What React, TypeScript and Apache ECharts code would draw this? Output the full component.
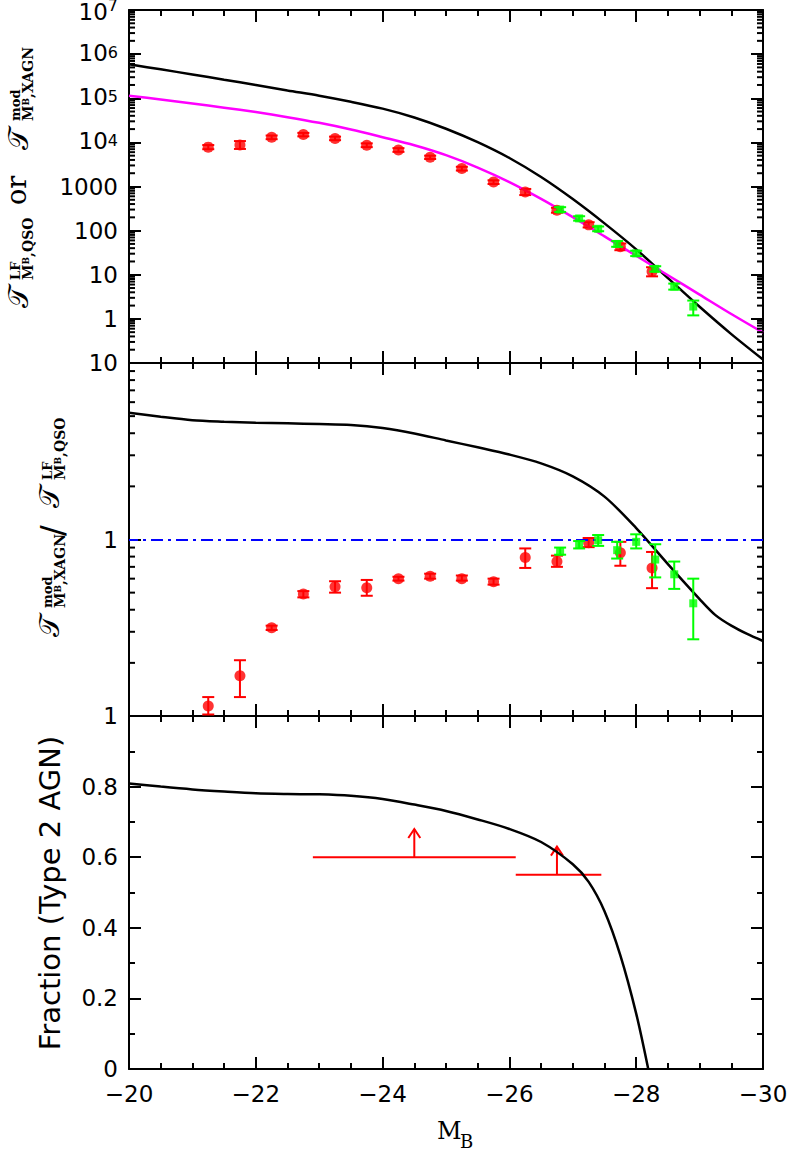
import React, { useEffect, useRef } from 'react';
import * as echarts from 'echarts';

// ---------- data ----------
const M_CURVE = [-20, -20.5, -21, -21.5, -22, -22.5, -23, -23.5, -24, -24.5, -25, -25.5, -26, -26.5, -27, -27.5, -28, -28.5, -29, -29.5, -30];
const LF_MODEL_XAGN = [5.89e5, 4.52e5, 3.47e5, 2.63e5, 2.0e5, 1.5e5, 1.14e5, 8.32e4, 5.82e4, 3.67e4, 2.04e4, 1.01e4, 4.42e3, 1.64e3, 519, 146, 37.6, 8.41, 1.88, 0.452, 0.12];
const LF_FIT_QSO = [1.14e5, 9.38e4, 7.62e4, 6.12e4, 4.86e4, 3.73e4, 2.77e4, 1.96e4, 1.31e4, 8.61e3, 5.13e3, 2.69e3, 1.26e3, 525, 202, 74, 26.9, 9.77, 3.55, 1.29, 0.49];

const RATIO_M = [-20, -20.5, -21, -21.5, -22, -22.5, -23, -23.5, -24, -24.5, -25, -25.5, -26, -26.5, -27, -27.5, -28, -28.5, -29, -29.25, -29.5, -29.75, -30];
const RATIO_MODEL = [5.23, 4.96, 4.74, 4.65, 4.59, 4.55, 4.51, 4.455, 4.28, 3.99, 3.64, 3.33, 3.03, 2.7, 2.28, 1.75, 1.16, 0.726, 0.46, 0.373, 0.325, 0.2915, 0.266];

const FRAC_M = [-20, -20.5, -21, -21.5, -22, -22.5, -23, -23.5, -24, -24.5, -25, -25.5, -26, -26.5, -27, -27.25, -27.5, -27.75, -28, -28.19];
const FRAC_TYPE2 = [0.809, 0.8, 0.792, 0.786, 0.781, 0.779, 0.778, 0.774, 0.765, 0.749, 0.731, 0.707, 0.68, 0.643, 0.58, 0.53, 0.447, 0.322, 0.157, 0];

const QSO_M = [-21.25, -21.75, -22.25, -22.75, -23.25, -23.75, -24.25, -24.75, -25.25, -25.75, -26.25, -26.75, -27.25, -27.75, -28.25];
const QSO_LF = [7.8e3, 8.7e3, 1.3e4, 1.5e4, 1.23e4, 8.6e3, 6.7e3, 4.6e3, 2.55e3, 1.26e3, 750, 290, 135, 43, 11.8];
const QSO_LF_LO = [7.0e3, 7.1e3, 1.18e4, 1.37e4, 1.12e4, 7.8e3, 6.1e3, 4.2e3, 2.3e3, 1.14e3, 640, 255, 118, 36, 9.2];
const QSO_LF_HI = [8.7e3, 1.07e4, 1.43e4, 1.64e4, 1.35e4, 9.5e3, 7.4e3, 5.0e3, 2.8e3, 1.38e3, 880, 330, 155, 51, 14.8];
const QSO_RATIO = [0.114, 0.169, 0.316, 0.491, 0.54, 0.533, 0.6, 0.62, 0.6, 0.577, 0.79, 0.75, 0.96, 0.84, 0.69];
const QSO_RATIO_LO = [0.102, 0.128, 0.307, 0.47, 0.5, 0.48, 0.585, 0.6, 0.585, 0.555, 0.69, 0.7, 0.905, 0.71, 0.53];
const QSO_RATIO_HI = [0.128, 0.207, 0.325, 0.51, 0.58, 0.59, 0.615, 0.64, 0.625, 0.6, 0.89, 0.81, 1.02, 0.97, 0.85];

const X_M = [-26.8, -27.1, -27.4, -27.7, -28.0, -28.3, -28.6, -28.9];
const X_LF = [300, 189, 110, 50, 30.5, 13.6, 5.4, 1.9];
const X_LF_LO = [265, 168, 97, 43, 26.5, 11.8, 4.6, 1.2];
const X_LF_HI = [340, 212, 124, 58, 35, 15.6, 6.3, 2.6];
const X_RATIO = [0.853, 0.93, 0.99, 0.87, 0.97, 0.77, 0.635, 0.435];
const X_RATIO_LO = [0.82, 0.89, 0.92, 0.78, 0.89, 0.61, 0.525, 0.272];
const X_RATIO_HI = [0.9, 0.98, 1.06, 0.97, 1.07, 0.94, 0.75, 0.6];

const LIM_FROM = [-22.9, -26.1];
const LIM_TO = [-26.1, -27.45];
const LIM_VALUE = [0.6, 0.55];
const LIM_ARROW_M = [-24.5, -26.75];
const LIM_ARROW_TOP = [0.68, 0.63];

const REF_RATIO = 1;

const X_MIN = -30;
const X_MAX = -20;
const X_STEP = 2;
const Y_TOP_MAX = 1e7;

// minor tick positions for the log axes (2..9 within each decade)
const decadeTicks = (eFrom: number, eTo: number) => {
  const out: number[] = [];
  for (let e = eFrom; e < eTo; e++) for (let m = 2; m <= 9; m++) out.push(m * Math.pow(10, e));
  return out;
};
const LOG_MINOR_TOP = decadeTicks(-1, 7);
const LOG_MINOR_MID = decadeTicks(-1, 1);

// ---------- styles ----------
const SANS = 'DejaVu Sans';
const SERIF = 'DejaVu Serif';
const RED = '#ff0000';
const GREEN = '#00ff00';
const MAGENTA = '#ff00ff';
const BLUE = '#0000ff';
const BLACK = '#000000';

const zip = (a: number[], b: number[]) => a.map((v, i) => [v, b[i]]);
const zip3 = (a: number[], b: number[], c: number[]) => a.map((v, i) => [v, b[i], c[i]]);

const lineSt = { color: BLACK, width: 2 };

function xAxis(gridIndex: number, position: 'bottom' | 'top', showLabel: boolean) {
  return {
    type: 'value', gridIndex, position, min: X_MIN, max: X_MAX, interval: X_STEP, inverse: true,
    axisLine: { show: true, onZero: false, lineStyle: lineSt },
    axisTick: { show: true, inside: true, length: 12, lineStyle: lineSt },
    minorTick: { show: true, splitNumber: 4, length: 6, lineStyle: lineSt },
    splitLine: { show: false }, minorSplitLine: { show: false },
    axisLabel: {
      show: showLabel, margin: 13, fontSize: 23, fontFamily: SANS, color: BLACK,
      formatter: (v: number) => (v < 0 ? '\u2212' + Math.abs(v) : String(v)),
    },
  };
}

function yCommon(gridIndex: number, position: 'left' | 'right', showLabel: boolean) {
  return {
    gridIndex, position,
    axisLine: { show: true, onZero: false, lineStyle: lineSt },
    axisTick: { show: true, inside: true, length: 12, lineStyle: lineSt },
    splitLine: { show: false }, minorSplitLine: { show: false },
    axisLabel: { show: showLabel, margin: 11, fontSize: 23, fontFamily: SANS, color: BLACK },
  };
}

function errRender(color: string, half: number) {
  return (params: any, api: any) => {
    const x = api.value(0);
    const lo = api.coord([x, api.value(1)]);
    const hi = api.coord([x, api.value(2)]);
    const style = { stroke: color, lineWidth: 2 };
    return {
      type: 'group',
      children: [
        { type: 'line', shape: { x1: lo[0], y1: lo[1], x2: hi[0], y2: hi[1] }, style },
        { type: 'line', shape: { x1: lo[0] - half, y1: lo[1], x2: lo[0] + half, y2: lo[1] }, style },
        { type: 'line', shape: { x1: hi[0] - half, y1: hi[1], x2: hi[0] + half, y2: hi[1] }, style },
      ],
    };
  };
}

function minorTickSeries(gi: number, values: number[]) {
  return {
    type: 'custom', xAxisIndex: 2 * gi, yAxisIndex: 2 * gi, silent: true, z: 10,
    data: values.map((v) => [-25, v]),
    encode: { x: 0, y: 1 },
    renderItem: (params: any, api: any) => {
      const cs = params.coordSys;
      const y = api.coord([-25, api.value(1)])[1];
      const st = { stroke: BLACK, lineWidth: 2 };
      return {
        type: 'group',
        children: [
          { type: 'line', shape: { x1: cs.x, y1: y, x2: cs.x + 6, y2: y }, style: st },
          { type: 'line', shape: { x1: cs.x + cs.width - 6, y1: y, x2: cs.x + cs.width, y2: y }, style: st },
        ],
      };
    },
  };
}

// rotated title helpers (group rotated by +90deg: local (lx, ly) -> page (ly, -lx))
function tx(text: string, startY: number, centerX: number, size: number, family: string, weight = 'normal', align = 'left') {
  return {
    type: 'text', x: -startY, y: centerX,
    style: { text, fontSize: size, fontFamily: family, fontWeight: weight, fill: BLACK, align, verticalAlign: 'middle', textAlign: align, textVerticalAlign: 'middle' },
  };
}
function subMB(rest: string, startY: number, centerX: number) {
  return {
    type: 'text', x: -startY, y: centerX - 7,
    style: {
      text: `{m|M}{b|B}{m|${rest}}`, fill: BLACK, align: 'left', verticalAlign: 'top', textAlign: 'left', textVerticalAlign: 'top',
      rich: {
        m: { fontSize: 14, fontFamily: SERIF, fontWeight: 'bold', lineHeight: 14, verticalAlign: 'top', fill: BLACK },
        b: { fontSize: 9, fontFamily: SERIF, fontWeight: 'bold', lineHeight: 22, verticalAlign: 'top', fill: BLACK },
      },
    },
  };
}
const SCRIPT = '\u{1D4AF}';

export default function App() {
  const ref = useRef<HTMLDivElement>(null);
  useEffect(() => {
    if (!ref.current) return;
    const chart = echarts.init(ref.current, undefined, { renderer: 'svg' });
    const grid = [
      { left: 129, top: 10, width: 634, height: 353 },
      { left: 129, top: 363, width: 634, height: 353 },
      { left: 129, top: 716, width: 634, height: 353 },
    ].map((g) => ({ ...g, containLabel: false, outerBoundsMode: 'none', show: false }));

    const yTopLabel = {
      ...yCommon(0, 'left', true).axisLabel,
      formatter: (v: number) => {
        if (v < 0.5) return '';
        const e = Math.round(Math.log10(v));
        if (v >= Y_TOP_MAX * 0.99) return `{t|10}{u|${e}}`;
        return e >= 4 ? `{b|10}{s|${e}}` : String(Math.round(v));
      },
      rich: {
        b: { fontSize: 23, fontFamily: SANS, color: BLACK, lineHeight: 20, verticalAlign: 'bottom' },
        s: { fontSize: 16, fontFamily: SANS, color: BLACK, lineHeight: 16, verticalAlign: 'top' },
        t: { fontSize: 23, fontFamily: SANS, color: BLACK, lineHeight: 18, verticalAlign: 'bottom' },
        u: { fontSize: 16, fontFamily: SANS, color: BLACK, lineHeight: 26, verticalAlign: 'top' },
      },
    };
    const yMidLabel = {
      ...yCommon(1, 'left', true).axisLabel,
      formatter: (v: number) => (v < 0.5 ? '' : String(Math.round(v))),
    };

    const curve = (name: string, xi: number, data: number[][], color: string) => ({
      type: 'line', name, xAxisIndex: xi, yAxisIndex: xi, data,
      showSymbol: false, smooth: 0.3,
      lineStyle: { color, width: 2.5 }, itemStyle: { color }, silent: true,
    });

    const option: any = {
      animation: false,
      backgroundColor: '#ffffff',
      grid,
      xAxis: [
        xAxis(0, 'bottom', false), xAxis(0, 'top', false),
        xAxis(1, 'bottom', false), xAxis(1, 'top', false),
        xAxis(2, 'bottom', true), xAxis(2, 'top', false),
      ],
      yAxis: [
        { ...yCommon(0, 'left', true), type: 'log', logBase: 10, min: 0.1, max: Y_TOP_MAX, minorTick: { show: false }, axisLabel: yTopLabel },
        { ...yCommon(0, 'right', false), type: 'log', logBase: 10, min: 0.1, max: Y_TOP_MAX, minorTick: { show: false } },
        { ...yCommon(1, 'left', true), type: 'log', logBase: 10, min: 0.1, max: 10, minorTick: { show: false }, axisLabel: yMidLabel },
        { ...yCommon(1, 'right', false), type: 'log', logBase: 10, min: 0.1, max: 10, minorTick: { show: false } },
        { ...yCommon(2, 'left', true), type: 'value', min: 0, max: 1, interval: 0.2, minorTick: { show: true, splitNumber: 2, length: 6, lineStyle: lineSt } },
        { ...yCommon(2, 'right', false), type: 'value', min: 0, max: 1, interval: 0.2, minorTick: { show: true, splitNumber: 2, length: 6, lineStyle: lineSt } },
      ],
      series: [
        minorTickSeries(0, LOG_MINOR_TOP),
        minorTickSeries(1, LOG_MINOR_MID),
        // ---- panel 1 ----
        curve('model XAGN', 0, zip(M_CURVE, LF_MODEL_XAGN), BLACK),
        curve('LF QSO fit', 0, zip(M_CURVE, LF_FIT_QSO), MAGENTA),
        {
          type: 'custom', xAxisIndex: 0, yAxisIndex: 0, data: zip3(QSO_M, QSO_LF_LO, QSO_LF_HI),
          encode: { x: 0, y: [1, 2] }, renderItem: errRender(RED, 6), z: 3,
        },
        {
          type: 'scatter', xAxisIndex: 0, yAxisIndex: 0, data: zip(QSO_M, QSO_LF),
          symbol: 'circle', symbolSize: 11, itemStyle: { color: RED }, z: 4,
        },
        {
          type: 'custom', xAxisIndex: 0, yAxisIndex: 0, data: zip3(X_M, X_LF_LO, X_LF_HI),
          encode: { x: 0, y: [1, 2] }, renderItem: errRender(GREEN, 6), z: 5,
        },
        {
          type: 'scatter', xAxisIndex: 0, yAxisIndex: 0, data: zip(X_M, X_LF),
          symbol: 'rect', symbolSize: 8, itemStyle: { color: GREEN }, z: 6,
        },
        // ---- panel 2 ----
        {
          ...curve('ratio model', 2, zip(RATIO_M, RATIO_MODEL), BLACK),
          markLine: {
            silent: true, symbol: 'none', label: { show: false },
            lineStyle: { color: BLUE, width: 2, type: [12, 5, 3, 5] },
            data: [{ yAxis: REF_RATIO }],
          },
        },
        {
          type: 'custom', xAxisIndex: 2, yAxisIndex: 2, data: zip3(QSO_M, QSO_RATIO_LO, QSO_RATIO_HI),
          encode: { x: 0, y: [1, 2] }, renderItem: errRender(RED, 6), z: 3,
        },
        {
          type: 'scatter', xAxisIndex: 2, yAxisIndex: 2, data: zip(QSO_M, QSO_RATIO),
          symbol: 'circle', symbolSize: 11, itemStyle: { color: RED }, z: 4,
        },
        {
          type: 'custom', xAxisIndex: 2, yAxisIndex: 2, data: zip3(X_M, X_RATIO_LO, X_RATIO_HI),
          encode: { x: 0, y: [1, 2] }, renderItem: errRender(GREEN, 6), z: 5,
        },
        {
          type: 'scatter', xAxisIndex: 2, yAxisIndex: 2, data: zip(X_M, X_RATIO),
          symbol: 'rect', symbolSize: 8, itemStyle: { color: GREEN }, z: 6,
        },
        // ---- panel 3 ----
        curve('type 2 fraction', 4, zip(FRAC_M, FRAC_TYPE2), BLACK),
        {
          type: 'custom', xAxisIndex: 4, yAxisIndex: 4,
          data: LIM_FROM.map((f, i) => [f, LIM_TO[i], LIM_VALUE[i], LIM_ARROW_M[i], LIM_ARROW_TOP[i]]),
          encode: { x: [0, 1, 3], y: [2, 4] },
          renderItem: (params: any, api: any) => {
            const yv = api.value(2);
            const a = api.coord([api.value(0), yv]);
            const b = api.coord([api.value(1), yv]);
            const s = api.coord([api.value(3), yv]);
            const t = api.coord([api.value(3), api.value(4)]);
            const style = { stroke: RED, lineWidth: 2, fill: 'none' };
            return {
              type: 'group',
              children: [
                { type: 'line', shape: { x1: a[0], y1: a[1], x2: b[0], y2: b[1] }, style },
                { type: 'line', shape: { x1: s[0], y1: s[1], x2: t[0], y2: t[1] }, style },
                { type: 'polyline', shape: { points: [[t[0] - 6, t[1] + 9], [t[0], t[1]], [t[0] + 6, t[1] + 9]] }, style },
              ],
            };
          },
        },
      ],
      graphic: [
        {
          type: 'group', x: 0, y: 0, rotation: Math.PI / 2, silent: true,
          children: [
            // panel 1 title
            tx(SCRIPT, 308, 18, 28, SERIF),
            tx('LF', 280, 15.5, 13, SERIF, 'bold'),
            subMB(',QSO', 280, 28),
            tx('or', 205, 16, 27, SERIF),
            tx(SCRIPT, 150, 18, 28, SERIF),
            tx('mod', 121, 15.5, 13, SERIF, 'bold'),
            subMB(',XAGN', 121, 28),
            // panel 2 title
            tx(SCRIPT, 637, 49, 28, SERIF),
            tx('mod', 608, 47.5, 13, SERIF, 'bold'),
            subMB(',XAGN', 608, 60),
            tx('/', 536, 52, 32, SANS),
            tx(SCRIPT, 508, 49, 28, SERIF),
            tx('LF', 480, 47.5, 13, SERIF, 'bold'),
            subMB(',QSO', 480, 60),
            // panel 3 title
            tx('Fraction (Type 2 AGN)', 893, 50, 29, SANS, 'normal', 'center'),
          ],
        },
        {
          type: 'text', x: 437, y: 1131, silent: true,
          style: { text: 'M', fontSize: 24, fontFamily: SERIF, fill: BLACK, align: 'left', verticalAlign: 'middle', textAlign: 'left', textVerticalAlign: 'middle' },
        },
        {
          type: 'text', x: 460, y: 1141, silent: true,
          style: { text: 'B', fontSize: 18, fontFamily: SERIF, fill: BLACK, align: 'left', verticalAlign: 'middle', textAlign: 'left', textVerticalAlign: 'middle' },
        },
      ],
    };
    chart.setOption(option);
    return () => chart.dispose();
  }, []);
  return <div ref={ref} style={{ position: 'absolute', left: 0, top: 0, width: 789, height: 1150, background: '#fff' }} />;
}
